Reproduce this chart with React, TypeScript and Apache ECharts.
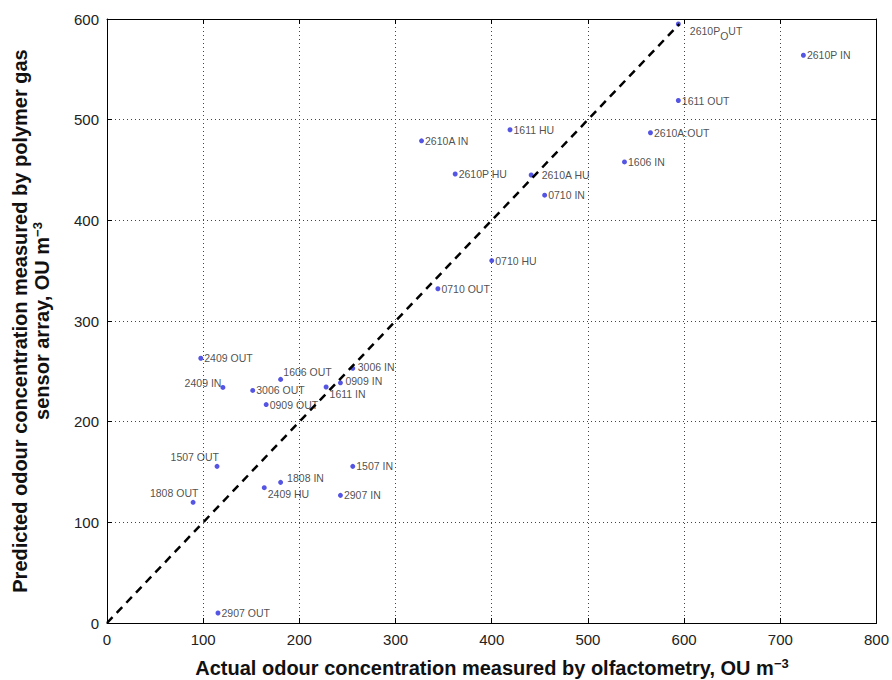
import React, { useEffect, useRef } from "react";
import * as echarts from "echarts";

// ---- data ----
const sampleNames = [
  "2610P_OUT", "2610P IN", "1611 OUT", "2610A:OUT", "1606 IN", "1611 HU",
  "2610A IN", "2610P HU", "2610A HU", "0710 IN", "0710 HU", "0710 OUT",
  "2409 OUT", "2409 IN", "1606 OUT", "3006 OUT", "0909 OUT", "3006 IN",
  "0909 IN", "1611 IN", "1507 OUT", "1507 IN", "1808 IN", "2409 HU",
  "2907 IN", "1808 OUT", "2907 OUT",
];
const olfactometry = [
  594, 724, 594, 565, 538, 419,
  327, 362, 441, 455, 400, 344,
  97.5, 120.5, 180.5, 151.5, 165.5, 255.5,
  242.7, 227.8, 114.4, 255.5, 180.5, 163.5,
  242.7, 89.5, 115.4,
];
const sensorPredicted = [
  595, 564, 519, 487, 458, 490,
  479, 446, 445, 425, 360, 332,
  263, 234, 242, 231, 217, 253,
  238.6, 234.4, 155.6, 155.6, 139.7, 134.4,
  126.8, 119.9, 9.9,
];
const oneToOneLine = [0, 595];
const xTicks = { min: 0, max: 800, step: 100 };
const yTicks = { min: 0, max: 600, step: 100 };

// ---- label placement (style only) ----
type Place = { pos: "left" | "right"; dx: number; dy: number };
const labelPlacement: Record<string, Place> = {
  "1606 OUT": { pos: "right", dx: -0.8, dy: -7 },
  "3006 IN": { pos: "right", dx: 1.5, dy: -1 },
  "0909 IN": { pos: "right", dx: 1.5, dy: -1.7 },
  "1611 IN": { pos: "right", dx: 0, dy: 7.3 },
  "1808 IN": { pos: "right", dx: 3, dy: -4.3 },
  "2409 HU": { pos: "right", dx: 0, dy: 6.3 },
  "2610A HU": { pos: "right", dx: 7, dy: 0 },
  "2610P_OUT": { pos: "right", dx: 8, dy: 7 },
  "2409 IN": { pos: "left", dx: 2, dy: -4.7 },
  "1507 OUT": { pos: "left", dx: 5.5, dy: -9 },
  "1808 OUT": { pos: "left", dx: 8.8, dy: -9.3 },
};

const FONT = '"Liberation Sans", Arial, Helvetica, sans-serif';

export default function App() {
  const ref = useRef<HTMLDivElement>(null);

  useEffect(() => {
    if (!ref.current) return;
    const chart = echarts.init(ref.current, null, { renderer: "svg" });

    const scatterData = sampleNames.map((name, i) => {
      const p = labelPlacement[name] || { pos: "right", dx: 0, dy: 0 };
      return {
        name,
        value: [olfactometry[i], sensorPredicted[i]],
        label: { position: p.pos, offset: [p.dx, p.dy] },
      };
    });

    const frameAxis = {
      type: "value" as const,
      axisLine: { show: true, onZero: false, lineStyle: { color: "#000", width: 1 } },
      axisTick: { show: true, inside: true, length: 5, lineStyle: { color: "#000", width: 1 } },
    };

    const tokenBase = { fontSize: 10.5, color: "#222", fontFamily: FONT };

    chart.setOption({
      animation: false,
      backgroundColor: "#fff",
      grid: { left: 107, right: 14, top: 19, bottom: 57, containLabel: false },
      xAxis: [
        {
          ...frameAxis,
          min: xTicks.min,
          max: xTicks.max,
          interval: xTicks.step,
          position: "bottom",
          axisLabel: { fontSize: 15, color: "#222", margin: 9, fontFamily: FONT },
          splitLine: { show: true, lineStyle: { type: [1, 3], color: "#444", width: 1 } },
        },
        {
          ...frameAxis,
          min: xTicks.min,
          max: xTicks.max,
          interval: xTicks.step,
          position: "top",
          axisLabel: { show: false },
          splitLine: { show: false },
        },
      ],
      yAxis: [
        {
          ...frameAxis,
          min: yTicks.min,
          max: yTicks.max,
          interval: yTicks.step,
          position: "left",
          axisLabel: { fontSize: 15, color: "#222", margin: 8, fontFamily: FONT },
          splitLine: { show: true, lineStyle: { type: [1, 3], color: "#444", width: 1 } },
        },
        {
          ...frameAxis,
          min: yTicks.min,
          max: yTicks.max,
          interval: yTicks.step,
          position: "right",
          axisLabel: { show: false },
          splitLine: { show: false },
        },
      ],
      series: [
        {
          type: "scatter",
          xAxisIndex: 0,
          yAxisIndex: 0,
          symbol: "circle",
          symbolSize: 5,
          itemStyle: { color: "#2b2bdc" },
          z: 3,
          label: {
            show: true,
            position: "right",
            distance: 1,
            fontSize: 10.5,
            color: "#222",
            fontFamily: FONT,
            formatter: (p: any) => {
              const s = String(p.name);
              if (s.indexOf("_O") < 0) return s;
              const [a, b] = s.split("_O");
              return `{a|${a}}{sub|O}{a|${b}}`;
            },
            rich: {
              a: { ...tokenBase, lineHeight: 12, verticalAlign: "top" },
              sub: { ...tokenBase, lineHeight: 12, verticalAlign: "top", padding: [5, 0, 0, 0] },
            },
          },
          data: scatterData,
        },
        {
          type: "line",
          xAxisIndex: 0,
          yAxisIndex: 0,
          symbol: "none",
          z: 4,
          lineStyle: { color: "#000", width: 2.5, type: [8, 6] },
          data: [
            [oneToOneLine[0], oneToOneLine[0]],
            [oneToOneLine[1], oneToOneLine[1]],
          ],
        },
      ],
      graphic: [
        {
          type: "text",
          x: 492,
          y: 668,
          style: {
            text: "Actual odour concentration measured by olfactometry, OU m{sup|−3}",
            font: `bold 20px ${FONT}`,
            fill: "#111",
            align: "center",
            verticalAlign: "middle",
            lineHeight: 22,
            rich: {
              sup: {
                fontSize: 13,
                fontWeight: "bold",
                fontFamily: FONT,
                fill: "#111",
                lineHeight: 10,
                verticalAlign: "top",
              },
            },
          },
        },
        {
          type: "text",
          x: 31,
          y: 321,
          rotation: Math.PI / 2,
          style: {
            text: "Predicted odour concentration measured by polymer gas\nsensor array, OU m{sup|−3}",
            font: `bold 20px ${FONT}`,
            fill: "#111",
            align: "center",
            verticalAlign: "middle",
            lineHeight: 22,
            rich: {
              sup: {
                fontSize: 13,
                fontWeight: "bold",
                fontFamily: FONT,
                fill: "#111",
                lineHeight: 12,
                verticalAlign: "top",
              },
            },
          },
        },
      ],
    });

    return () => chart.dispose();
  }, []);

  return (
    <div
      ref={ref}
      style={{ position: "fixed", left: 0, top: 0, width: 892, height: 680, background: "#fff" }}
    />
  );
}
